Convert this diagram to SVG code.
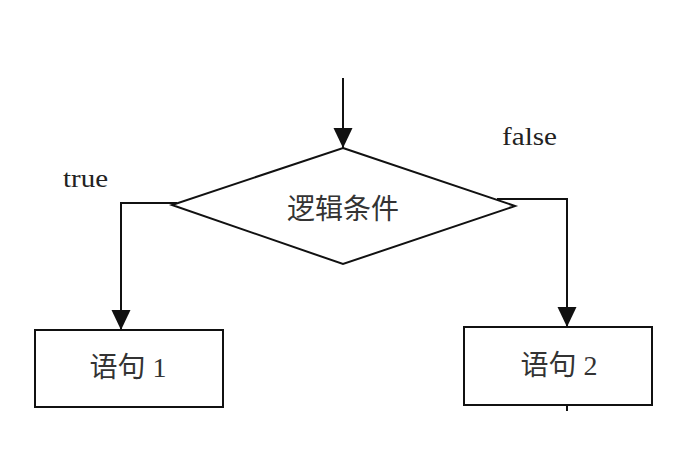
<svg xmlns="http://www.w3.org/2000/svg" width="697" height="450" viewBox="0 0 697 450">
<defs>
<style>
.shape{fill:#fff;stroke:#111;stroke-width:2}
.conn{fill:none;stroke:#111;stroke-width:2}
.lbl{font-family:"Liberation Serif","Noto Sans CJK SC",serif;fill:#222}
.cjk{font-family:"Liberation Serif","Noto Sans CJK SC",serif;fill:#333;font-size:28px;text-anchor:middle}
</style>
<marker id="arr" markerUnits="userSpaceOnUse" markerWidth="20" markerHeight="20" refX="20" refY="9.5" orient="auto">
<path d="M0,0 L20,9.5 L0,19 Z" fill="#111"/>
</marker>
</defs>
<rect width="697" height="450" fill="#fff"/>
<g id="decision">
<polygon class="shape" points="343,148 515,206 343,264 172,205"/>
<text class="cjk" x="343" y="219">逻辑条件</text>
</g>
<g id="stmt1">
<rect class="shape" x="35" y="330" width="188" height="77"/>
<text class="cjk" x="128" y="377">语句 1</text>
</g>
<g id="stmt2">
<rect class="shape" x="464" y="327" width="188" height="78"/>
<text class="cjk" x="559" y="375">语句 2</text>
</g>
<g id="connectors">
<path class="conn" d="M343,78 L343,148" marker-end="url(#arr)"/>
<path class="conn" d="M177,203 L121,203 L121,330" marker-end="url(#arr)"/>
<path class="conn" d="M497,199 L567,199 L567,327" marker-end="url(#arr)"/>
<path class="conn" d="M567,405 L567,411"/>
</g>
<g id="labels">
<text class="lbl" x="63" y="187" font-size="26" textLength="45" lengthAdjust="spacingAndGlyphs">true</text>
<text class="lbl" x="502" y="145" font-size="26" textLength="55" lengthAdjust="spacingAndGlyphs">false</text>
</g>
</svg>
